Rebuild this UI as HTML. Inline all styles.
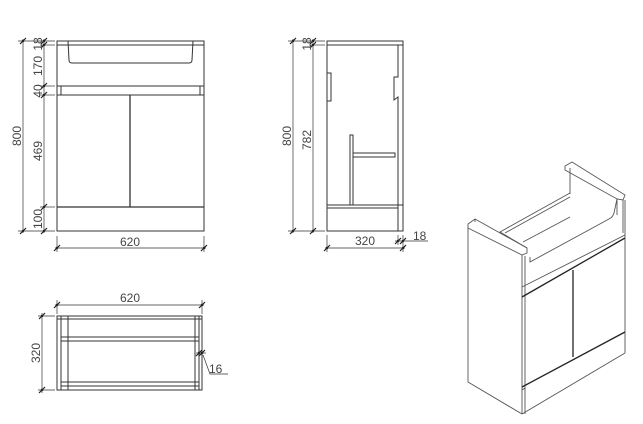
<!DOCTYPE html>
<html><head><meta charset="utf-8"><style>
html,body{margin:0;padding:0;background:#fff;}
svg{display:block}
text{font-family:"Liberation Sans",sans-serif;font-size:12px;fill:#444;}
</style></head><body>
<svg width="643" height="424" viewBox="0 0 643 424" xmlns="http://www.w3.org/2000/svg">
<defs>
<g id="t"><line x1="-3" y1="3" x2="3" y2="-3" stroke="#222" stroke-width="1.2"/><circle r="1.2" fill="#222"/></g>
</defs>
<g fill="none" stroke="#333" stroke-width="1">
<!-- FRONT VIEW -->
<rect x="57" y="41" width="147" height="190"/>
<line x1="57" y1="45" x2="204" y2="45"/>
<path d="M68 41 L69 60 Q69 63 72 63 L189 63 Q192 63 192 60 L193 41"/>
<line x1="57" y1="86" x2="204" y2="86"/>
<line x1="57" y1="95" x2="204" y2="95"/>
<line x1="61" y1="86" x2="61" y2="95"/>
<line x1="200" y1="86" x2="200" y2="95"/>
<line x1="57" y1="207" x2="204" y2="207" stroke-width="1.3"/>
<line x1="130" y1="95" x2="130" y2="207" stroke-width="1.3"/>
<!-- front dims -->
<line x1="23" y1="39" x2="23" y2="233" stroke-width="0.7"/>
<line x1="18" y1="41" x2="55" y2="41" stroke-width="0.7"/>
<line x1="18" y1="231" x2="55" y2="231" stroke-width="0.7"/>
<line x1="44" y1="39" x2="44" y2="233" stroke-width="0.7"/>
<line x1="40" y1="45" x2="55" y2="45" stroke-width="0.7"/>
<line x1="40" y1="86" x2="55" y2="86" stroke-width="0.7"/>
<line x1="40" y1="95" x2="55" y2="95" stroke-width="0.7"/>
<line x1="40" y1="207" x2="55" y2="207" stroke-width="0.7"/>
<line x1="57" y1="236" x2="57" y2="252" stroke-width="0.7"/>
<line x1="204" y1="236" x2="204" y2="252" stroke-width="0.7"/>
<line x1="55" y1="248" x2="206" y2="248" stroke-width="0.7"/>
<!-- SIDE VIEW -->
<rect x="327" y="41" width="76" height="190"/>
<line x1="327" y1="45" x2="403" y2="45"/>
<path d="M398 45 L398 77 L394 77 L394 100 L398 97 L398 231"/>
<rect x="327" y="73" width="4" height="28"/>
<rect x="350" y="135" width="3" height="70"/>
<rect x="353" y="153" width="42" height="4"/>
<line x1="327" y1="205" x2="398" y2="205"/>
<line x1="327" y1="208" x2="398" y2="208"/>
<line x1="398" y1="205" x2="403" y2="205"/>
<!-- side dims -->
<line x1="293" y1="39" x2="293" y2="233" stroke-width="0.7"/>
<line x1="288" y1="41" x2="325" y2="41" stroke-width="0.7"/>
<line x1="288" y1="231" x2="325" y2="231" stroke-width="0.7"/>
<line x1="313" y1="39" x2="313" y2="233" stroke-width="0.7"/>
<line x1="309" y1="45" x2="325" y2="45" stroke-width="0.7"/>
<line x1="327" y1="235" x2="327" y2="252" stroke-width="0.7"/>
<line x1="403" y1="235" x2="403" y2="252" stroke-width="0.7"/>
<line x1="398" y1="235" x2="398" y2="245" stroke-width="0.7"/>
<line x1="325" y1="248" x2="405" y2="248" stroke-width="0.7"/>
<line x1="395" y1="241" x2="428" y2="241" stroke-width="0.7"/>
<!-- PLAN VIEW -->
<rect x="57" y="316" width="145" height="74"/>
<line x1="61" y1="316" x2="61" y2="390"/>
<line x1="68" y1="316" x2="68" y2="390"/>
<line x1="195" y1="316" x2="195" y2="390"/>
<line x1="199" y1="316" x2="199" y2="390"/>
<line x1="57" y1="319" x2="202" y2="319"/>
<line x1="61" y1="337" x2="199" y2="337"/>
<line x1="61" y1="341" x2="199" y2="341"/>
<line x1="61" y1="382" x2="199" y2="382"/>
<line x1="61" y1="386" x2="199" y2="386"/>
<line x1="55" y1="305" x2="204" y2="305" stroke-width="0.7"/>
<line x1="57" y1="300" x2="57" y2="314" stroke-width="0.7"/>
<line x1="202" y1="300" x2="202" y2="314" stroke-width="0.7"/>
<line x1="42" y1="313" x2="42" y2="393" stroke-width="0.7"/>
<line x1="38" y1="316" x2="55" y2="316" stroke-width="0.7"/>
<line x1="38" y1="390" x2="55" y2="390" stroke-width="0.7"/>
<line x1="196" y1="353" x2="206" y2="353" stroke-width="0.7"/>
<polyline points="203,355 210,374 228,374" stroke-width="0.7"/>
<!-- ISO VIEW -->
<g stroke="#555" stroke-width="0.9">
<polygon points="468,224 475,219 527,248 527,253 522,255 468,228"/>
<line x1="475" y1="219" x2="475" y2="222"/>
<polyline points="468,228 468,382 522,414"/>
<polygon points="565,166 572,162 625,195 623,200 617,199 565,170"/>
<line x1="570" y1="168" x2="570" y2="194"/>
<path d="M617,199 L614,213 Q613,217 609,219 L530,262 L530,257"/>
<line x1="522" y1="255" x2="522" y2="414"/>
<line x1="525" y1="256" x2="525" y2="414"/>
<polyline points="570,193 500,232 527,248"/>
<polyline points="570,197 505,233"/>
<polyline points="570,217 523,242"/>
<line x1="617" y1="199" x2="617" y2="215"/>
<line x1="623" y1="200" x2="623" y2="233"/>
<line x1="625" y1="200" x2="625" y2="353"/>
<line x1="522" y1="287" x2="625" y2="235"/>
<line x1="522" y1="297" x2="625" y2="238" stroke="#222" stroke-width="1.3"/>
<line x1="573" y1="270" x2="573" y2="357" stroke="#222" stroke-width="1.3"/>
<line x1="522" y1="387" x2="625" y2="332" stroke="#222" stroke-width="1.3"/>
<line x1="522" y1="390" x2="525" y2="388"/>
<line x1="522" y1="414" x2="625" y2="353"/>
</g>
</g>
<!-- ticks -->
<g>
<use href="#t" x="23" y="41"/><use href="#t" x="23" y="231"/>
<use href="#t" x="44" y="41"/><use href="#t" x="44" y="45"/><use href="#t" x="44" y="86"/><use href="#t" x="44" y="95"/><use href="#t" x="44" y="207"/><use href="#t" x="44" y="231"/>
<use href="#t" x="57" y="248"/><use href="#t" x="204" y="248"/>
<use href="#t" x="293" y="41"/><use href="#t" x="293" y="231"/>
<use href="#t" x="313" y="41"/><use href="#t" x="313" y="45"/><use href="#t" x="313" y="231"/>
<use href="#t" x="327" y="248"/><use href="#t" x="403" y="248"/>
<use href="#t" x="398" y="241"/><use href="#t" x="403" y="241"/>
<use href="#t" x="57" y="305"/><use href="#t" x="202" y="305"/>
<use href="#t" x="42" y="316"/><use href="#t" x="42" y="390"/>
<use href="#t" x="199" y="353"/><use href="#t" x="202" y="353"/>
</g>
<!-- labels -->
<g>
<text x="130" y="246" text-anchor="middle">620</text>
<text x="365" y="245" text-anchor="middle">320</text>
<text x="413" y="240">18</text>
<text x="130" y="302" text-anchor="middle">620</text>
<text x="209" y="373">16</text>
<text transform="translate(21,136) rotate(-90)" text-anchor="middle">800</text>
<text transform="translate(42,44) rotate(-90)" text-anchor="middle" font-size="10">18</text>
<text transform="translate(42,66) rotate(-90)" text-anchor="middle">170</text>
<text transform="translate(42,91) rotate(-90)" text-anchor="middle">40</text>
<text transform="translate(42,151) rotate(-90)" text-anchor="middle">469</text>
<text transform="translate(42,219) rotate(-90)" text-anchor="middle">100</text>
<text transform="translate(291,136) rotate(-90)" text-anchor="middle">800</text>
<text transform="translate(311,44) rotate(-90)" text-anchor="middle" font-size="10">18</text>
<text transform="translate(311,140) rotate(-90)" text-anchor="middle">782</text>
<text transform="translate(40,353) rotate(-90)" text-anchor="middle">320</text>
</g>
</svg>
</body></html>
